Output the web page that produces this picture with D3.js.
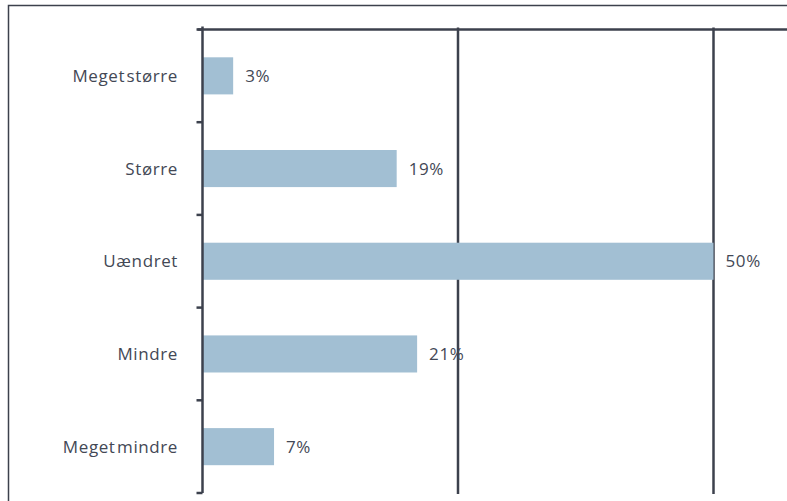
<!DOCTYPE html>
<html>
<head>
<meta charset="utf-8">
<script src="https://cdn.jsdelivr.net/npm/d3@7"></script>
<style>
  html, body { margin: 0; padding: 0; background: #fff; }
  svg { display: block; }
  text { font-family: "Open Sans", "Noto Sans", sans-serif; fill: #434855; }
</style>
</head>
<body>
<svg id="chart" width="787" height="501"></svg>
<script>
// Answer categories, top to bottom
const categories = ["Meget større", "Større", "Uændret", "Mindre", "Meget mindre"];
// Share of answers (%)
const values = [3, 19, 50, 21, 7];
// Vertical gridline positions (%)
const gridTicks = [25, 50, 75];

const svg = d3.select("#chart");
const ink = "#3c414d";
const barColor = "#a2bfd3";

// Outer frame (runs past the right and bottom edges)
svg.append("rect")
  .attr("x", 8.5).attr("y", 5.5)
  .attr("width", 900).attr("height", 600)
  .attr("fill", "none").attr("stroke", ink).attr("stroke-width", 1.5);

const x0 = 202.5, yTop = 29.5, yBottom = 493;
const x = d3.scaleLinear().domain([0, 75]).range([x0, x0 + 1533 / 2]);
const y = d3.scaleBand().domain(categories).range([yTop, yBottom]).paddingInner(0.6).paddingOuter(0.3);

// Gridlines
svg.append("g").selectAll("line").data(gridTicks).join("line")
  .attr("x1", d => x(d)).attr("x2", d => x(d))
  .attr("y1", yTop - 2).attr("y2", yBottom + 1)
  .attr("stroke", ink).attr("stroke-width", 2.5);

// Top axis line
svg.append("line")
  .attr("x1", x0 - 5).attr("x2", 900)
  .attr("y1", yTop).attr("y2", yTop)
  .attr("stroke", ink).attr("stroke-width", 2.5);

// Bars
svg.append("g").selectAll("rect").data(values).join("rect")
  .attr("x", x(0))
  .attr("y", (d, i) => y(categories[i]))
  .attr("width", d => x(d) - x(0))
  .attr("height", y.bandwidth())
  .attr("fill", barColor);

// Category axis with boundary ticks
const bounds = d3.range(categories.length + 1).map(i => yTop + i * (yBottom - yTop) / categories.length);
const axisG = svg.append("g");
axisG.append("line")
  .attr("x1", x0).attr("x2", x0)
  .attr("y1", yTop - 3).attr("y2", yBottom)
  .attr("stroke", ink).attr("stroke-width", 2.5);
axisG.selectAll("line.tick").data(bounds).join("line").attr("class", "tick")
  .attr("x1", x0 - 6).attr("x2", x0)
  .attr("y1", d => d).attr("y2", d => d)
  .attr("stroke", ink).attr("stroke-width", 2.5);

axisG.selectAll("text").data(categories).join("text")
  .attr("x", 178)
  .attr("y", d => y(d) + y.bandwidth() / 2)
  .attr("dy", "0.36em")
  .attr("text-anchor", "end")
  .attr("font-size", 17)
  .style("letter-spacing", "0.6px")
  .style("word-spacing", "-3.5px")
  .text(d => d);

// Value labels
svg.append("g").selectAll("text").data(values).join("text")
  .attr("x", d => x(d) + 12)
  .attr("y", (d, i) => y(categories[i]) + y.bandwidth() / 2)
  .attr("dy", "0.36em")
  .attr("font-size", 17)
  .style("letter-spacing", "0.6px")
  .text(d => d + "%");
</script>
</body>
</html>
